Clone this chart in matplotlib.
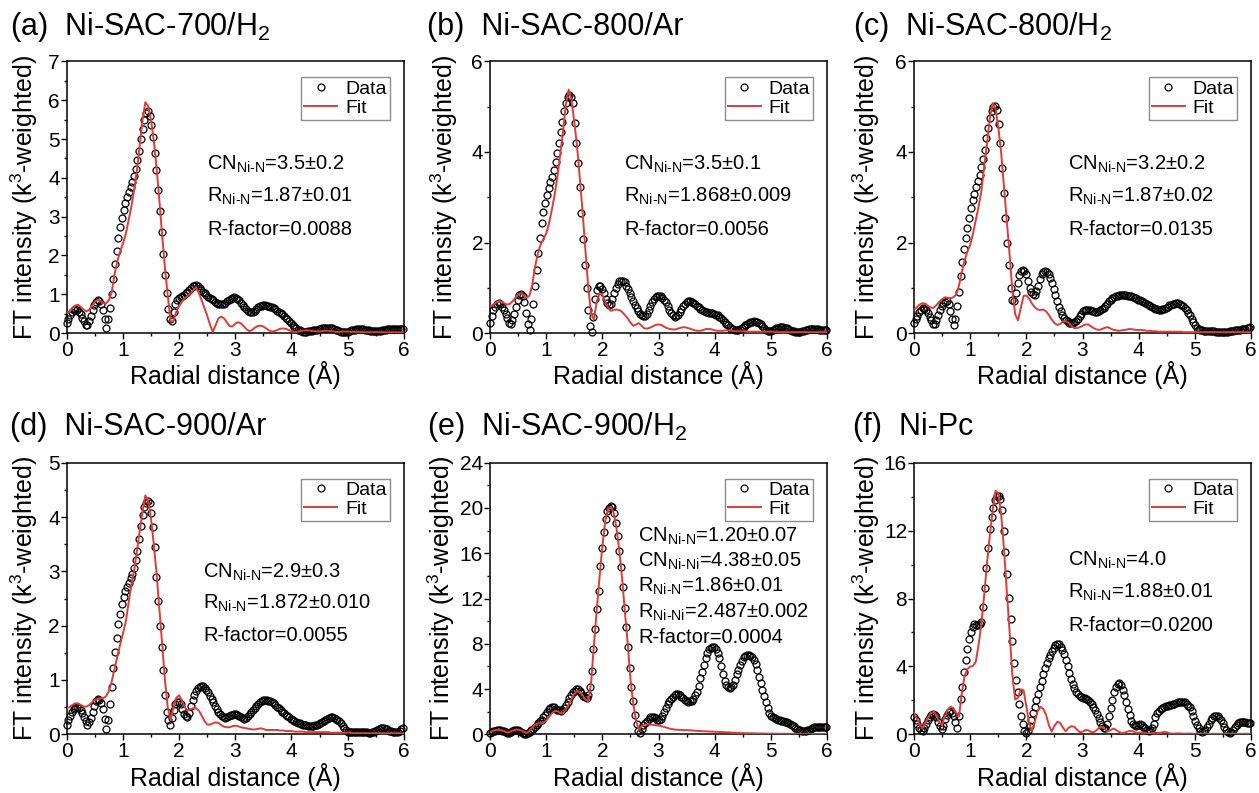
import numpy as np
import matplotlib
matplotlib.use("Agg")
import matplotlib.pyplot as plt
from matplotlib.ticker import MultipleLocator
from matplotlib.lines import Line2D

plt.rcParams['font.family'] = 'Liberation Sans'
plt.rcParams['mathtext.fontset'] = 'custom'
plt.rcParams['mathtext.rm'] = 'Liberation Sans'
plt.rcParams['mathtext.it'] = 'Liberation Sans:italic'
plt.rcParams['mathtext.bf'] = 'Liberation Sans:bold'

# measured |FT| on the usual Athena R grid, fits on a coarser grid
R_STEP = 0.0307
FIT_STEP = 0.05

data_a = [
    0.25, 0.37, 0.47, 0.55, 0.6, 0.62, 0.6, 0.55, 0.48, 0.4,
    0.3, 0.22, 0.2, 0.3, 0.45, 0.6, 0.72, 0.8, 0.85, 0.83,
    0.75, 0.6, 0.35, 0.12, 0.35, 0.65, 1.0, 1.4, 1.78, 2.12,
    2.45, 2.73, 2.96, 3.16, 3.34, 3.5, 3.63, 3.76, 3.9, 4.05,
    4.23, 4.45, 4.7, 5.0, 5.25, 5.5, 5.68, 5.72, 5.6, 5.37,
    5.05, 4.65, 4.2, 3.68, 3.15, 2.6, 2.05, 1.5, 1.02, 0.62,
    0.35, 0.3, 0.55, 0.75, 0.85, 0.9, 0.92, 0.95, 0.98, 1.02,
    1.07, 1.12, 1.17, 1.2, 1.22, 1.23, 1.21, 1.17, 1.12, 1.07,
    1.02, 0.98, 0.94, 0.9, 0.87, 0.84, 0.81, 0.78, 0.76, 0.75,
    0.75, 0.76, 0.78, 0.82, 0.86, 0.89, 0.91, 0.92, 0.91, 0.88,
    0.84, 0.78, 0.72, 0.66, 0.61, 0.57, 0.55, 0.54, 0.55, 0.58,
    0.62, 0.66, 0.69, 0.71, 0.72, 0.72, 0.71, 0.7, 0.68, 0.66,
    0.64, 0.61, 0.58, 0.55, 0.52, 0.48, 0.44, 0.4, 0.36, 0.31,
    0.26, 0.21, 0.16, 0.12, 0.09, 0.07, 0.05, 0.04, 0.04, 0.04,
    0.05, 0.05, 0.06, 0.07, 0.08, 0.09, 0.1, 0.11, 0.12, 0.13,
    0.14, 0.14, 0.14, 0.13, 0.12, 0.1, 0.08, 0.07, 0.05, 0.04,
    0.03, 0.02, 0.03, 0.04, 0.06, 0.07, 0.08, 0.09, 0.1, 0.1,
    0.1, 0.1, 0.1, 0.09, 0.08, 0.07, 0.06, 0.05, 0.05, 0.05,
    0.05, 0.05, 0.06, 0.07, 0.08, 0.09, 0.1, 0.1, 0.11, 0.11,
    0.11, 0.11, 0.11, 0.1, 0.1, 0.1,
]
fit_a = [
    0.5, 0.56, 0.64, 0.71, 0.73, 0.67, 0.6, 0.56, 0.6, 0.7,
    0.8, 0.86, 0.83, 0.77, 0.76, 0.85, 1.05, 1.5, 1.85, 2.1,
    2.3, 2.55, 2.9, 3.25, 3.7, 4.2, 4.85, 5.5, 5.95, 5.85,
    5.5, 4.95, 4.25, 3.4, 2.5, 1.65, 0.95, 0.3, 0.3, 0.55,
    0.7, 0.8, 0.9, 0.95, 1.02, 1.1, 1.18, 1.05, 0.85, 0.65,
    0.45, 0.22, 0.03, 0.2, 0.38, 0.42, 0.38, 0.28, 0.18, 0.17,
    0.24, 0.28, 0.25, 0.18, 0.1, 0.05, 0.08, 0.14, 0.18, 0.19,
    0.17, 0.12, 0.07, 0.04, 0.05, 0.08, 0.11, 0.12, 0.11, 0.08,
    0.05, 0.03, 0.03, 0.05, 0.06, 0.07, 0.07, 0.06, 0.05, 0.04,
    0.04, 0.05, 0.06, 0.06, 0.05, 0.04, 0.03, 0.03, 0.04, 0.04,
    0.04, 0.03, 0.03, 0.03, 0.03, 0.03, 0.02, 0.02, 0.02, 0.02,
    0.02, 0.02, 0.02, 0.02, 0.02, 0.02, 0.02, 0.02, 0.02, 0.02,
    0.02,
]

data_b = [
    0.22, 0.38, 0.5, 0.58, 0.64, 0.66, 0.64, 0.58, 0.5, 0.42,
    0.33, 0.22, 0.2, 0.28, 0.42, 0.58, 0.72, 0.83, 0.86, 0.82,
    0.68, 0.45, 0.2, 0.07, 0.3, 0.65, 1.03, 1.4, 1.77, 2.1,
    2.43, 2.67, 2.88, 3.05, 3.2, 3.33, 3.45, 3.6, 3.77, 3.97,
    4.2, 4.45, 4.67, 4.9, 5.08, 5.22, 5.26, 5.22, 5.08, 4.65,
    4.2, 3.75, 3.22, 2.65, 2.08, 1.5, 1.0, 0.5, 0.15, 0.02,
    0.35, 0.75, 0.95, 1.03, 1.03, 0.98, 0.88, 0.75, 0.66, 0.63,
    0.65, 0.75, 0.88, 1.0, 1.08, 1.14, 1.16, 1.15, 1.12, 1.05,
    0.97, 0.88, 0.8, 0.71, 0.63, 0.55, 0.48, 0.43, 0.39, 0.37,
    0.38, 0.42, 0.5, 0.59, 0.68, 0.75, 0.79, 0.81, 0.82, 0.81,
    0.78, 0.74, 0.68, 0.6, 0.52, 0.45, 0.39, 0.36, 0.37, 0.41,
    0.46, 0.53, 0.6, 0.65, 0.68, 0.7, 0.7, 0.69, 0.67, 0.64,
    0.6, 0.57, 0.54, 0.51, 0.49, 0.47, 0.46, 0.45, 0.44, 0.44,
    0.43, 0.41, 0.39, 0.36, 0.33, 0.29, 0.25, 0.21, 0.17, 0.13,
    0.1, 0.08, 0.06, 0.06, 0.07, 0.09, 0.11, 0.14, 0.17, 0.2,
    0.22, 0.24, 0.25, 0.26, 0.25, 0.24, 0.22, 0.19, 0.15, 0.11,
    0.07, 0.04, 0.04, 0.05, 0.07, 0.09, 0.11, 0.12, 0.13, 0.13,
    0.13, 0.12, 0.11, 0.09, 0.07, 0.05, 0.04, 0.03, 0.02, 0.02,
    0.03, 0.04, 0.05, 0.06, 0.07, 0.08, 0.09, 0.09, 0.09, 0.08,
    0.08, 0.07, 0.07, 0.07, 0.07, 0.07,
]
fit_b = [
    0.59, 0.62, 0.67, 0.7, 0.7, 0.66, 0.63, 0.64, 0.7, 0.78,
    0.85, 0.88, 0.83, 0.78, 0.82, 1.05, 1.45, 1.75, 1.95, 2.08,
    2.2, 2.42, 2.72, 3.05, 3.45, 3.95, 4.45, 5.05, 5.38, 5.15,
    4.67, 4.12, 3.4, 2.65, 1.8, 1.0, 0.42, 0.3, 0.7, 0.88,
    0.85, 0.7, 0.56, 0.49, 0.51, 0.52, 0.51, 0.47, 0.4, 0.33,
    0.23, 0.16, 0.19, 0.22, 0.16, 0.1, 0.1, 0.12, 0.15, 0.18,
    0.19, 0.18, 0.14, 0.11, 0.09, 0.08, 0.08, 0.1, 0.12, 0.13,
    0.12, 0.1, 0.08, 0.06, 0.05, 0.05, 0.07, 0.09, 0.09, 0.08,
    0.06, 0.05, 0.05, 0.05, 0.06, 0.06, 0.05, 0.04, 0.04, 0.04,
    0.04, 0.04, 0.03, 0.03, 0.03, 0.03, 0.03, 0.03, 0.03, 0.03,
    0.03, 0.03, 0.02, 0.02, 0.02, 0.02, 0.02, 0.02, 0.02, 0.02,
    0.02, 0.02, 0.02, 0.02, 0.02, 0.02, 0.02, 0.02, 0.02, 0.02,
    0.02,
]

data_c = [
    0.22, 0.3, 0.38, 0.46, 0.52, 0.55, 0.54, 0.5, 0.44, 0.36,
    0.28, 0.21, 0.2, 0.28, 0.4, 0.52, 0.6, 0.66, 0.69, 0.7,
    0.64, 0.48, 0.3, 0.17, 0.3, 0.6, 0.9, 1.25, 1.58, 1.85,
    2.1, 2.33, 2.55, 2.76, 2.93, 3.08, 3.22, 3.35, 3.5, 3.66,
    3.85, 4.05, 4.3, 4.53, 4.75, 4.9, 5.0, 5.01, 4.92, 4.62,
    4.2, 3.65, 3.1, 2.55, 2.0, 1.5, 1.0, 0.72, 0.7, 0.88,
    1.1, 1.28, 1.36, 1.4, 1.38, 1.3, 1.15, 1.0, 0.9, 0.86,
    0.85, 0.92, 1.05, 1.2, 1.3, 1.35, 1.36, 1.34, 1.3, 1.22,
    1.1, 0.97, 0.84, 0.7, 0.58, 0.48, 0.4, 0.33, 0.28, 0.26,
    0.23, 0.22, 0.22, 0.24, 0.27, 0.32, 0.38, 0.43, 0.48, 0.51,
    0.52, 0.52, 0.51, 0.49, 0.48, 0.47, 0.47, 0.48, 0.5, 0.53,
    0.56, 0.6, 0.65, 0.7, 0.74, 0.77, 0.79, 0.81, 0.82, 0.83,
    0.83, 0.83, 0.83, 0.83, 0.82, 0.82, 0.81, 0.8, 0.78, 0.77,
    0.74, 0.72, 0.7, 0.68, 0.66, 0.64, 0.62, 0.6, 0.58, 0.56,
    0.54, 0.53, 0.52, 0.52, 0.53, 0.54, 0.56, 0.58, 0.61, 0.63,
    0.64, 0.65, 0.66, 0.66, 0.65, 0.63, 0.6, 0.56, 0.51, 0.45,
    0.39, 0.32, 0.25, 0.18, 0.12, 0.09, 0.07, 0.06, 0.05, 0.05,
    0.05, 0.05, 0.05, 0.04, 0.04, 0.03, 0.03, 0.02, 0.02, 0.02,
    0.02, 0.03, 0.03, 0.04, 0.05, 0.05, 0.06, 0.06, 0.06, 0.07,
    0.08, 0.09, 0.1, 0.11, 0.12, 0.13,
]
fit_c = [
    0.52, 0.57, 0.63, 0.66, 0.65, 0.6, 0.56, 0.56, 0.62, 0.69,
    0.75, 0.79, 0.78, 0.77, 0.79, 0.85, 1.05, 1.35, 1.6, 1.8,
    1.95, 2.2, 2.5, 2.8, 3.15, 3.7, 4.2, 4.75, 5.08, 4.95,
    4.55, 4.0, 3.25, 2.5, 1.75, 0.95, 0.42, 0.28, 0.55, 0.82,
    0.83, 0.76, 0.65, 0.57, 0.52, 0.51, 0.52, 0.48, 0.4, 0.3,
    0.22, 0.18, 0.2, 0.25, 0.26, 0.23, 0.16, 0.11, 0.11, 0.13,
    0.16, 0.19, 0.19, 0.15, 0.11, 0.08, 0.07, 0.09, 0.12, 0.13,
    0.1, 0.07, 0.06, 0.05, 0.06, 0.07, 0.08, 0.09, 0.08, 0.07,
    0.07, 0.07, 0.06, 0.05, 0.05, 0.04, 0.04, 0.03, 0.03, 0.03,
    0.03, 0.03, 0.03, 0.03, 0.03, 0.03, 0.02, 0.02, 0.02, 0.02,
    0.02, 0.02, 0.02, 0.02, 0.02, 0.02, 0.02, 0.02, 0.02, 0.02,
    0.02, 0.02, 0.02, 0.02, 0.02, 0.02, 0.02, 0.02, 0.02, 0.02,
    0.02,
]

data_d = [
    0.18, 0.26, 0.34, 0.41, 0.46, 0.49, 0.5, 0.48, 0.44, 0.39,
    0.32, 0.24, 0.18, 0.22, 0.3, 0.42, 0.53, 0.62, 0.65, 0.63,
    0.58, 0.47, 0.28, 0.09, 0.27, 0.55, 0.87, 1.22, 1.52, 1.78,
    2.03, 2.22, 2.4, 2.53, 2.63, 2.71, 2.79, 2.87, 2.95, 3.06,
    3.2, 3.38, 3.6, 3.84, 4.04, 4.18, 4.26, 4.29, 4.25, 4.07,
    3.82, 3.45, 2.9, 2.45, 2.0, 1.6, 1.18, 0.72, 0.42, 0.26,
    0.18, 0.3, 0.45, 0.55, 0.59, 0.6, 0.56, 0.47, 0.38, 0.33,
    0.32, 0.4, 0.52, 0.63, 0.72, 0.79, 0.85, 0.88, 0.89, 0.89,
    0.86, 0.82, 0.77, 0.71, 0.65, 0.59, 0.53, 0.47, 0.41, 0.37,
    0.33, 0.31, 0.3, 0.31, 0.33, 0.35, 0.36, 0.37, 0.37, 0.36,
    0.34, 0.32, 0.3, 0.29, 0.3, 0.33, 0.37, 0.41, 0.45, 0.49,
    0.53, 0.56, 0.59, 0.61, 0.63, 0.63, 0.63, 0.62, 0.61, 0.59,
    0.57, 0.54, 0.51, 0.48, 0.45, 0.42, 0.39, 0.36, 0.34, 0.31,
    0.29, 0.27, 0.25, 0.23, 0.21, 0.2, 0.19, 0.18, 0.17, 0.17,
    0.16, 0.16, 0.16, 0.16, 0.17, 0.18, 0.19, 0.2, 0.22, 0.24,
    0.26, 0.28, 0.3, 0.31, 0.31, 0.3, 0.29, 0.27, 0.24, 0.21,
    0.16, 0.12, 0.08, 0.05, 0.04, 0.04, 0.05, 0.05, 0.05, 0.05,
    0.05, 0.05, 0.04, 0.04, 0.04, 0.03, 0.03, 0.04, 0.05, 0.06,
    0.08, 0.1, 0.11, 0.11, 0.11, 0.1, 0.09, 0.07, 0.06, 0.05,
    0.04, 0.04, 0.05, 0.07, 0.09, 0.11,
]
fit_d = [
    0.48, 0.5, 0.54, 0.57, 0.57, 0.54, 0.51, 0.51, 0.54, 0.59,
    0.63, 0.65, 0.66, 0.67, 0.7, 0.8, 0.97, 1.2, 1.43, 1.65,
    1.85, 2.07, 2.41, 2.75, 3.02, 3.38, 3.75, 4.1, 4.4, 4.3,
    3.98, 3.5, 2.95, 2.3, 1.65, 0.98, 0.48, 0.27, 0.5, 0.67,
    0.72, 0.62, 0.5, 0.44, 0.46, 0.48, 0.48, 0.44, 0.35, 0.25,
    0.18, 0.18, 0.2, 0.22, 0.21, 0.17, 0.14, 0.13, 0.13, 0.15,
    0.16, 0.15, 0.13, 0.12, 0.11, 0.1, 0.09, 0.09, 0.1, 0.11,
    0.1, 0.08, 0.08, 0.08, 0.08, 0.08, 0.07, 0.07, 0.06, 0.06,
    0.06, 0.05, 0.05, 0.05, 0.05, 0.04, 0.04, 0.04, 0.04, 0.04,
    0.04, 0.04, 0.04, 0.04, 0.03, 0.03, 0.03, 0.03, 0.03, 0.03,
    0.03, 0.03, 0.02, 0.02, 0.02, 0.02, 0.02, 0.02, 0.02, 0.02,
    0.02, 0.02, 0.02, 0.02, 0.02, 0.02, 0.02, 0.02, 0.02, 0.02,
    0.02,
]

data_e = [
    0.1, 0.2, 0.28, 0.33, 0.36, 0.37, 0.36, 0.32, 0.26, 0.2,
    0.13, 0.12, 0.2, 0.28, 0.35, 0.38, 0.36, 0.3, 0.2, 0.08,
    0.02, 0.04, 0.12, 0.22, 0.34, 0.48, 0.62, 0.78, 0.98, 1.15,
    1.25, 1.5, 1.75, 2.0, 2.2, 2.35, 2.42, 2.38, 2.25, 2.18,
    2.12, 2.08, 2.12, 2.3, 2.55, 2.85, 3.2, 3.5, 3.7, 3.85,
    3.98, 3.97, 3.85, 3.62, 3.42, 3.28, 3.24, 3.5, 4.15, 5.6,
    7.5, 9.3, 11.1, 12.7, 14.9, 16.5, 17.9, 19.0, 19.7, 20.0,
    20.15, 20.05, 19.6, 18.7, 17.5, 16.2, 14.8, 13.0, 11.2, 9.5,
    7.7, 5.9, 4.2, 2.9, 1.75, 0.9, 0.3, 0.1, 0.45, 0.8,
    1.0, 1.2, 1.38, 1.52, 1.56, 1.52, 1.42, 1.3, 1.28, 1.35,
    1.6, 1.95, 2.3, 2.65, 2.9, 3.12, 3.32, 3.45, 3.52, 3.52,
    3.45, 3.33, 3.18, 3.04, 2.94, 2.89, 2.9, 2.98, 3.15, 3.45,
    3.75, 4.3, 5.0, 5.5, 6.1, 6.7, 7.2, 7.5, 7.65, 7.74,
    7.72, 7.58, 7.2, 6.7, 6.05, 5.35, 4.75, 4.38, 4.18, 4.07,
    4.15, 4.36, 4.8, 5.3, 5.7, 6.15, 6.5, 6.8, 6.95, 7.02,
    7.0, 6.93, 6.8, 6.55, 6.2, 5.7, 5.05, 4.5, 3.95, 3.4,
    2.85, 2.3, 1.9, 1.65, 1.5, 1.42, 1.36, 1.3, 1.25, 1.22,
    1.18, 1.13, 1.08, 1.02, 0.95, 0.85, 0.72, 0.6, 0.5, 0.42,
    0.36, 0.31, 0.29, 0.3, 0.35, 0.42, 0.5, 0.57, 0.61, 0.64,
    0.66, 0.68, 0.68, 0.68, 0.68, 0.68,
]
fit_e = [
    0.2, 0.3, 0.38, 0.4, 0.36, 0.28, 0.18, 0.2, 0.32, 0.4,
    0.42, 0.35, 0.22, 0.12, 0.3, 0.6, 0.85, 0.97, 0.95, 1.0,
    1.2, 1.55, 1.85, 2.05, 2.05, 1.88, 1.86, 2.2, 2.65, 3.1,
    3.55, 3.82, 3.75, 3.45, 3.05, 2.95, 4.6, 7.9, 11.0, 13.9,
    16.6, 18.8, 19.9, 20.1, 19.6, 18.3, 16.3, 13.9, 10.9, 8.1,
    4.9, 2.7, 1.2, 0.4, 0.72, 0.85, 0.88, 0.86, 0.83, 0.8,
    0.77, 0.72, 0.65, 0.58, 0.5, 0.45, 0.42, 0.4, 0.39, 0.38,
    0.37, 0.36, 0.34, 0.32, 0.3, 0.29, 0.27, 0.26, 0.25, 0.24,
    0.23, 0.22, 0.2, 0.19, 0.18, 0.17, 0.15, 0.14, 0.13, 0.12,
    0.11, 0.1, 0.1, 0.09, 0.09, 0.08, 0.08, 0.07, 0.07, 0.06,
    0.06, 0.06, 0.06, 0.05, 0.05, 0.05, 0.05, 0.05, 0.05, 0.05,
    0.05, 0.05, 0.05, 0.04, 0.04, 0.04, 0.04, 0.04, 0.04, 0.04,
    0.04,
]

data_f = [
    1.04, 0.85, 0.6, 0.38, 0.25, 0.22, 0.4, 0.6, 0.82, 1.0,
    1.12, 1.18, 1.12, 1.0, 0.75, 0.5, 0.29, 0.5, 0.88, 1.15,
    1.3, 1.38, 1.25, 1.05, 0.7, 0.38, 1.1, 2.1, 2.8, 3.65,
    4.4, 5.0, 5.6, 6.05, 6.35, 6.5, 6.45, 6.45, 6.5, 6.6,
    7.5, 8.6, 9.8, 10.95, 12.1, 12.8, 13.35, 13.8, 14.05, 14.05,
    13.85, 13.2, 12.0, 10.75, 9.45, 8.05, 6.8, 5.5, 4.2, 3.2,
    2.5, 1.8, 1.1, 0.6, 0.22, 0.1, 0.2, 0.5, 0.85, 1.25,
    1.62, 2.05, 2.4, 2.76, 3.15, 3.55, 3.9, 4.2, 4.5, 4.7,
    4.93, 5.1, 5.24, 5.33, 5.35, 5.17, 4.98, 4.75, 4.4, 4.0,
    3.6, 3.25, 2.95, 2.7, 2.5, 2.35, 2.25, 2.2, 2.15, 2.12,
    2.08, 2.0, 1.9, 1.78, 1.6, 1.45, 1.2, 0.98, 0.75, 0.5,
    0.4, 0.38, 0.62, 1.1, 1.55, 2.0, 2.5, 2.8, 2.97, 3.01,
    2.9, 2.62, 2.3, 1.88, 1.5, 1.15, 0.8, 0.6, 0.53, 0.51,
    0.56, 0.59, 0.53, 0.44, 0.35, 0.26, 0.2, 0.25, 0.4, 0.6,
    1.0, 1.25, 1.4, 1.5, 1.56, 1.61, 1.65, 1.69, 1.72, 1.75,
    1.78, 1.81, 1.85, 1.88, 1.92, 1.93, 1.92, 1.88, 1.8, 1.68,
    1.58, 1.35, 1.05, 0.78, 0.55, 0.36, 0.22, 0.16, 0.18, 0.26,
    0.42, 0.62, 0.82, 0.98, 1.06, 1.1, 1.06, 0.98, 0.85, 0.68,
    0.45, 0.28, 0.15, 0.1, 0.15, 0.26, 0.42, 0.55, 0.65, 0.7,
    0.71, 0.71, 0.7, 0.69, 0.67, 0.65,
]
fit_f = [
    1.24, 0.94, 0.6, 0.35, 0.68, 1.0, 1.25, 1.33, 1.14, 0.7,
    0.55, 1.1, 1.45, 1.62, 1.55, 1.25, 1.05, 2.4, 3.45, 3.85,
    3.99, 4.03, 4.28, 5.3, 6.55, 8.25, 10.1, 11.75, 13.2, 14.35,
    14.2, 13.0, 10.97, 8.5, 6.1, 3.5, 2.05, 2.15, 2.65, 2.6,
    1.63, 0.65, 0.2, 0.75, 1.35, 1.62, 1.5, 1.15, 0.55, 0.16,
    0.5, 0.73, 0.68, 0.4, 0.18, 0.38, 0.48, 0.45, 0.28, 0.13,
    0.15, 0.25, 0.24, 0.14, 0.12, 0.25, 0.4, 0.44, 0.3, 0.17,
    0.25, 0.34, 0.25, 0.14, 0.07, 0.1, 0.16, 0.2, 0.18, 0.1,
    0.08, 0.12, 0.1, 0.05, 0.04, 0.08, 0.1, 0.08, 0.1, 0.15,
    0.12, 0.06, 0.04, 0.05, 0.06, 0.05, 0.04, 0.04, 0.05, 0.04,
    0.03, 0.03, 0.03, 0.03, 0.03, 0.03, 0.03, 0.03, 0.03, 0.03,
    0.03, 0.03, 0.03, 0.03, 0.03, 0.03, 0.03, 0.03, 0.03, 0.03,
    0.03,
]

titles = ['(a)  Ni-SAC-700/H$_2$', '(b)  Ni-SAC-800/Ar', '(c)  Ni-SAC-800/H$_2$',
          '(d)  Ni-SAC-900/Ar', '(e)  Ni-SAC-900/H$_2$', '(f)  Ni-Pc']
y_max = [7, 6, 6, 5, 24, 16]
y_major = [1, 2, 2, 1, 4, 4]

NN = r'$_{\mathrm{Ni‐N}}$'
NINI = r'$_{\mathrm{Ni‐Ni}}$'
notes = [
    ['CN' + NN + '=3.5±0.2', 'R' + NN + '=1.87±0.01', 'R-factor=0.0088'],
    ['CN' + NN + '=3.5±0.1', 'R' + NN + '=1.868±0.009', 'R-factor=0.0056'],
    ['CN' + NN + '=3.2±0.2', 'R' + NN + '=1.87±0.02', 'R-factor=0.0135'],
    ['CN' + NN + '=2.9±0.3', 'R' + NN + '=1.872±0.010', 'R-factor=0.0055'],
    ['CN' + NN + '=1.20±0.07', 'CN' + NINI + '=4.38±0.05', 'R' + NN + '=1.86±0.01',
     'R' + NINI + '=2.487±0.002', 'R-factor=0.0004'],
    ['CN' + NN + '=4.0', 'R' + NN + '=1.88±0.01', 'R-factor=0.0200'],
]
note_x = [0.416, 0.398, 0.457, 0.404, 0.44, 0.458]
note_y = [
    [0.602, 0.484, 0.36],
    [0.602, 0.484, 0.36],
    [0.602, 0.484, 0.36],
    [0.578, 0.462, 0.342],
    [0.709, 0.616, 0.524, 0.429, 0.338],
    [0.62, 0.502, 0.379],
]
ylab_x = [-0.079, -0.089, -0.096, -0.079, -0.098, -0.095]

datas = [data_a, data_b, data_c, data_d, data_e, data_f]
fits = [fit_a, fit_b, fit_c, fit_d, fit_e, fit_f]

FIT_RED = '#df3b3b'

fig = plt.figure(figsize=(12.59, 7.93), dpi=100)
lefts = [0.053, 0.3892, 0.726]
bottoms = [0.580, 0.074]
title_x = [0.008, 0.339, 0.6775]
title_y = [0.956, 0.452]
W, H = 0.2677, 0.3425

for i in range(6):
    row, col = divmod(i, 3)
    ax = fig.add_axes([lefts[col], bottoms[row], W, H])

    d = np.array(datas[i])
    f = np.array(fits[i])
    r_d = np.arange(len(d)) * R_STEP
    r_f = np.arange(len(f)) * FIT_STEP

    ax.plot(r_d, d, 'o', ms=5, mfc='none', mec='black', mew=0.9,
            clip_on=False, zorder=2)
    ax.plot(r_f, f, color=FIT_RED, lw=1.4, zorder=3)

    ax.set_xlim(0, 6)
    ax.set_ylim(0, y_max[i])
    ax.xaxis.set_major_locator(MultipleLocator(1))
    ax.xaxis.set_minor_locator(MultipleLocator(0.5))
    ax.yaxis.set_major_locator(MultipleLocator(y_major[i]))
    ax.yaxis.set_minor_locator(MultipleLocator(y_major[i] / 2))
    ax.tick_params(which='both', direction='out', width=1.0,
                   top=False, right=False, labelsize=15)
    ax.tick_params(which='major', length=4)
    ax.tick_params(which='minor', length=2.5)
    ax.tick_params(axis='x', pad=1.5)
    ax.tick_params(axis='y', pad=1)
    for sp in ax.spines.values():
        sp.set_linewidth(1.1)

    ax.set_xlabel('Radial distance (Å)', fontsize=18)
    ax.xaxis.set_label_coords(0.5, -0.104)
    ax.set_ylabel('FT intensity (k$^3$-weighted)', fontsize=18)
    ax.yaxis.set_label_coords(ylab_x[i], 0.5)

    for txt, yy in zip(notes[i], note_y[i]):
        ax.text(note_x[i], yy, txt, transform=ax.transAxes, fontsize=14.5,
                ha='left', va='baseline')

    handles = [
        Line2D([], [], ls='none', marker='o', ms=5, mfc='none', mec='black', mew=0.9),
        Line2D([], [], color=FIT_RED, lw=1.4),
    ]
    leg = ax.legend(handles, ['Data', 'Fit'], loc='upper right',
                    bbox_to_anchor=(0.958, 0.941), borderaxespad=0,
                    fontsize=14, frameon=True, fancybox=False,
                    edgecolor='#8c8c8c', framealpha=1, handlelength=1.7,
                    handletextpad=0.4, borderpad=0.15, labelspacing=0.05,
                    numpoints=1)
    leg.get_frame().set_linewidth(1.0)

    fig.text(title_x[col], title_y[row], titles[i], fontsize=22,
             ha='left', va='baseline')

fig.savefig('out.png', dpi=100)
